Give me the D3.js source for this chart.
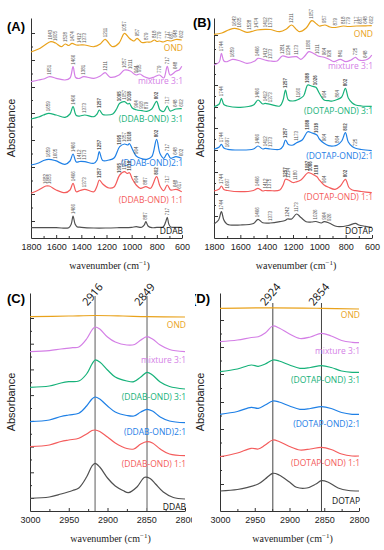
<!DOCTYPE html>
<html>
<head>
<meta charset="utf-8">
<script src="https://cdn.jsdelivr.net/npm/d3@7"></script>
<style>
body { margin: 0; background: #fff; }
svg { display: block; }
.axis path, .axis line { stroke: #333; stroke-width: 1; fill: none; }
.axis text { font-family: "Liberation Sans", Arial, sans-serif; font-size: 9px; fill: #222; }
.xtitle { font-family: "Liberation Serif", "Times New Roman", serif; font-size: 10px; fill: #222; }
.ytitle { font-family: "Liberation Sans", Arial, sans-serif; font-size: 11px; fill: #222; }
.ptitle { font-family: "Liberation Sans", Arial, sans-serif; font-size: 13px; font-weight: bold; fill: #000; }
.sname { font-family: "Open Sans", "Noto Sans", sans-serif; font-size: 8.5px; }
.peak { font-family: "Liberation Sans", Arial, sans-serif; font-size: 4.5px; fill: #555; }
.guide-lab { font-family: "Open Sans", "Noto Sans", sans-serif; font-size: 11px; fill: #111; }
</style>
</head>
<body>
<div class="viz"></div>
<script>
/* tick labels */
var fpTicks = [1800, 1600, 1400, 1200, 1000, 800, 600];
var fpMinor = [1700, 1500, 1300, 1100, 900, 700];
var chTicks = [3000, 2950, 2900, 2850, 2800];
var chMinor = [2975, 2925, 2875, 2825];

var aTicksY = [0.17, 0.44, 0.71, 0.98, 1.25, 1.51, 1.78, 2.05];
var bTicksY = [0.22, 0.44, 0.66, 0.88, 1.10, 1.31, 1.53, 1.75, 2.03];
var cTicksY = [0.13, 0.387, 0.644, 0.901, 1.159, 1.416, 1.673, 1.93];
var dTicksY = [0.27, 0.55, 0.82, 1.09, 1.37, 1.64, 1.91];

/* series names */
var namesDDAB = ['OND', 'mixture 3:1', '(DDAB-OND) 3:1', '(DDAB-OND)2:1', '(DDAB-OND) 1:1', 'DDAB'];
var namesDOTAP = ['OND', 'mixture 3:1', '(DOTAP-OND) 3:1', '(DOTAP-OND)2:1', '(DOTAP-OND) 1:1', 'DOTAP'];
var seriesColors = ['#e9a21b', '#d47fe6', '#17b27a', '#1f80e6', '#f45c5c', '#505050'];
var nameColors = ['#e9a21b', '#d47fe6', '#17b27a', '#1f80e6', '#f45c5c', '#111'];

/* (A) DDAB 1800-600, [wavenumber, absorbance (offset)] */
var aOND = [[1800,1.86],[1740,1.89],[1690,1.93],[1643,1.963],[1605,1.95],[1560,1.913],[1528,1.94],[1500,1.925],[1474,1.947],[1440,1.93],[1412,1.93],[1373,1.93],[1300,1.913],[1250,1.94],[1211,1.987],[1170,1.93],[1150,1.913],[1100,1.95],[1057,2.047],[1020,2.0],[1000,1.98],[980,1.97],[957,1.997],[920,1.955],[879,1.96],[850,1.96],[818,1.98],[800,1.965],[779,1.97],[750,1.96],[717,1.975],[687,1.97],[648,1.985],[602,1.98]];
var aMix = [[1800,1.563],[1740,1.58],[1700,1.59],[1651,1.613],[1600,1.597],[1530,1.58],[1490,1.6],[1466,1.713],[1445,1.605],[1420,1.595],[1381,1.613],[1300,1.597],[1250,1.62],[1211,1.653],[1170,1.607],[1100,1.63],[1057,1.68],[1011,1.67],[980,1.64],[964,1.63],[935,1.64],[900,1.613],[860,1.597],[820,1.61],[779,1.63],[745,1.6],[717,1.717],[695,1.63],[648,1.667],[620,1.683],[602,1.717]];
var a31 = [[1800,1.19],[1740,1.21],[1700,1.23],[1659,1.247],[1600,1.23],[1530,1.207],[1490,1.24],[1466,1.313],[1440,1.225],[1410,1.22],[1373,1.23],[1300,1.213],[1275,1.24],[1257,1.28],[1230,1.235],[1200,1.23],[1150,1.24],[1120,1.29],[1095,1.347],[1057,1.363],[1030,1.34],[1018,1.347],[995,1.3],[964,1.283],[918,1.273],[879,1.267],[840,1.29],[802,1.367],[775,1.28],[745,1.265],[717,1.32],[695,1.27],[648,1.29],[602,1.293]];
var a21 = [[1800,0.73],[1740,0.75],[1700,0.775],[1659,0.787],[1605,0.773],[1530,0.737],[1490,0.77],[1466,0.84],[1440,0.76],[1412,0.765],[1373,0.763],[1300,0.747],[1275,0.78],[1257,0.863],[1230,0.775],[1180,0.78],[1140,0.8],[1095,0.913],[1057,0.94],[1030,0.93],[1018,0.945],[995,0.89],[964,0.82],[930,0.797],[880,0.787],[840,0.813],[802,0.987],[775,0.845],[745,0.797],[717,0.847],[690,0.797],[648,0.813],[602,0.797]];
var a11 = [[1800,0.447],[1740,0.48],[1682,0.52],[1655,0.52],[1600,0.48],[1530,0.453],[1490,0.48],[1466,0.547],[1440,0.463],[1410,0.475],[1373,0.487],[1300,0.463],[1275,0.52],[1257,0.58],[1230,0.54],[1180,0.5],[1140,0.51],[1095,0.63],[1057,0.663],[1035,0.645],[1018,0.653],[995,0.59],[964,0.53],[930,0.497],[887,0.513],[850,0.497],[802,0.613],[775,0.52],[745,0.473],[717,0.53],[690,0.48],[648,0.487],[617,0.473],[602,0.463]];
var aDDAB = [[1800,0.103],[1600,0.103],[1500,0.103],[1480,0.14],[1466,0.22],[1450,0.14],[1435,0.113],[1400,0.107],[1300,0.1],[1200,0.1],[1100,0.103],[1000,0.107],[964,0.113],[920,0.107],[900,0.13],[887,0.163],[870,0.12],[840,0.103],[800,0.107],[750,0.11],[730,0.16],[717,0.207],[705,0.14],[690,0.11],[650,0.107],[602,0.107]];

/* (B) DOTAP 1800-600 */
var bOND = [[1800,2.037],[1740,2.05],[1690,2.08],[1643,2.097],[1605,2.085],[1550,2.057],[1500,2.07],[1474,2.08],[1412,2.087],[1373,2.085],[1300,2.063],[1250,2.09],[1211,2.13],[1170,2.08],[1150,2.063],[1100,2.1],[1057,2.173],[1020,2.14],[1000,2.12],[957,2.13],[920,2.11],[879,2.105],[818,2.12],[779,2.115],[717,2.12],[648,2.122],[602,2.123]];
var bMix = [[1800,1.73],[1760,1.76],[1744,1.847],[1725,1.77],[1700,1.763],[1659,1.787],[1600,1.77],[1550,1.747],[1490,1.77],[1466,1.797],[1412,1.78],[1373,1.77],[1320,1.77],[1281,1.82],[1234,1.807],[1173,1.813],[1140,1.787],[1110,1.82],[1080,1.863],[1050,1.85],[1011,1.82],[964,1.807],[926,1.787],[890,1.763],[841,1.787],[800,1.763],[760,1.78],[725,1.807],[700,1.78],[648,1.78],[620,1.8],[602,1.83]];
var b31 = [[1800,1.313],[1760,1.34],[1744,1.397],[1725,1.335],[1700,1.32],[1600,1.307],[1500,1.33],[1466,1.38],[1430,1.34],[1412,1.347],[1373,1.337],[1300,1.32],[1275,1.38],[1257,1.48],[1235,1.38],[1200,1.37],[1160,1.385],[1120,1.42],[1088,1.53],[1060,1.52],[1026,1.507],[1000,1.447],[964,1.38],[930,1.373],[900,1.37],[864,1.385],[830,1.41],[802,1.497],[780,1.4],[750,1.35],[725,1.33],[680,1.32],[602,1.317]];
var b21 = [[1800,0.887],[1760,0.91],[1744,0.937],[1725,0.9],[1697,0.887],[1600,0.88],[1500,0.89],[1466,0.92],[1430,0.89],[1412,0.897],[1373,0.89],[1300,0.887],[1275,0.92],[1257,0.98],[1235,0.935],[1200,0.93],[1173,0.953],[1130,0.98],[1088,1.063],[1060,1.053],[1018,1.03],[1000,0.99],[964,0.947],[930,0.923],[890,0.92],[864,0.93],[830,0.97],[802,1.053],[780,0.96],[750,0.915],[725,0.897],[680,0.885],[602,0.873]];
var b11 = [[1800,0.47],[1760,0.49],[1744,0.52],[1725,0.485],[1697,0.475],[1600,0.463],[1500,0.475],[1466,0.497],[1430,0.47],[1412,0.475],[1375,0.473],[1300,0.48],[1275,0.53],[1257,0.587],[1234,0.58],[1200,0.555],[1180,0.56],[1140,0.58],[1087,0.653],[1066,0.647],[1040,0.63],[1018,0.613],[1000,0.58],[964,0.53],[930,0.507],[880,0.487],[840,0.52],[802,0.587],[775,0.505],[750,0.48],[725,0.473],[680,0.465],[602,0.453]];
var bDOTAP = [[1800,0.14],[1765,0.18],[1744,0.263],[1725,0.18],[1700,0.137],[1600,0.13],[1500,0.145],[1466,0.187],[1430,0.153],[1373,0.15],[1300,0.163],[1260,0.175],[1242,0.19],[1210,0.19],[1173,0.24],[1140,0.205],[1100,0.163],[1060,0.16],[1026,0.165],[985,0.15],[964,0.163],[926,0.15],[880,0.12],[850,0.113],[780,0.125],[725,0.147],[700,0.13],[650,0.117],[602,0.107]];

/* (C) DDAB 3000-2800 */
var cOND = [[3000,1.943],[2950,1.95],[2916,1.955],[2880,1.95],[2849,1.943],[2800,1.94]];
var cMix = [[3000,1.593],[2975,1.603],[2960,1.62],[2945,1.633],[2937,1.64],[2927,1.72],[2920,1.81],[2916,1.84],[2910,1.82],[2900,1.74],[2890,1.69],[2875,1.66],[2865,1.665],[2857,1.71],[2849,1.743],[2842,1.72],[2832,1.66],[2820,1.615],[2800,1.593]];
var c31 = [[3000,1.237],[2975,1.25],[2960,1.28],[2950,1.293],[2937,1.3],[2927,1.37],[2920,1.47],[2916,1.51],[2910,1.49],[2900,1.41],[2890,1.34],[2875,1.3],[2866,1.293],[2857,1.34],[2849,1.387],[2842,1.36],[2832,1.29],[2820,1.245],[2800,1.22]];
var c21 = [[3000,0.893],[2975,0.91],[2960,0.945],[2950,0.96],[2937,0.977],[2927,1.05],[2920,1.12],[2916,1.14],[2910,1.12],[2900,1.05],[2890,0.99],[2875,0.955],[2866,0.95],[2857,0.99],[2849,1.017],[2842,1.0],[2832,0.94],[2820,0.9],[2800,0.883]];
var c11 = [[3000,0.643],[2975,0.66],[2960,0.695],[2950,0.71],[2937,0.727],[2927,0.77],[2920,0.805],[2916,0.81],[2910,0.795],[2900,0.74],[2890,0.68],[2875,0.625],[2866,0.62],[2857,0.67],[2849,0.693],[2842,0.68],[2832,0.62],[2820,0.57],[2800,0.553]];
var cDDAB = [[3000,0.127],[2975,0.14],[2960,0.17],[2945,0.205],[2937,0.23],[2927,0.34],[2920,0.45],[2916,0.477],[2910,0.44],[2900,0.33],[2890,0.25],[2880,0.205],[2873,0.183],[2862,0.24],[2852,0.337],[2845,0.325],[2838,0.27],[2828,0.19],[2815,0.135],[2800,0.12]];

/* (D) DOTAP 3000-2800 */
var dOND = [[3000,2.027],[2924,2.032],[2854,2.027],[2800,2.02]];
var dMix = [[3000,1.693],[2975,1.71],[2955,1.735],[2945,1.743],[2935,1.78],[2924,1.85],[2915,1.83],[2900,1.77],[2885,1.725],[2870,1.74],[2854,1.777],[2840,1.75],[2825,1.705],[2810,1.687],[2800,1.683]];
var d31 = [[3000,1.393],[2975,1.42],[2955,1.46],[2945,1.447],[2935,1.47],[2924,1.51],[2915,1.5],[2900,1.46],[2885,1.427],[2870,1.435],[2854,1.453],[2840,1.435],[2825,1.4],[2810,1.387],[2800,1.387]];
var d21 = [[3000,0.967],[2975,0.995],[2955,1.037],[2945,1.027],[2935,1.06],[2924,1.1],[2915,1.09],[2900,1.05],[2885,1.017],[2870,1.025],[2854,1.043],[2840,1.025],[2825,0.985],[2810,0.967],[2800,0.967]];
var d11 = [[3000,0.543],[2975,0.58],[2955,0.627],[2945,0.62],[2935,0.66],[2924,0.71],[2915,0.695],[2900,0.645],[2885,0.61],[2870,0.62],[2854,0.637],[2840,0.615],[2825,0.57],[2810,0.55],[2800,0.55]];
var dDOTAP = [[3000,0.2],[2975,0.215],[2960,0.237],[2945,0.27],[2935,0.32],[2924,0.377],[2915,0.36],[2900,0.29],[2890,0.237],[2875,0.23],[2862,0.27],[2854,0.303],[2845,0.29],[2830,0.23],[2815,0.205],[2800,0.2]];

/* peak assignments */
var ondPeaks = [1643,1605,1528,1474,1412,1373,1211,1057,957,879,818,779,717,687,648,602];
var aMixPeaks = [1651,1466,1381,1211,1057,1011,964,935,779,717,648];
var a31Peaks = [1659,1466,1373,1257,1095,1057,1018,964,918,879,802,717,648,602];
var a21Peaks = [1659,1605,1466,1412,1373,1257,1095,1057,1018,964,802,717,648,602];
var a11Peaks = [1682,1655,1466,1373,1257,1095,1057,1018,964,887,802,717,648,617];
var aDDABPeaks = [1466,887,717];
var bMixPeaks = [1744,1659,1466,1412,1373,1281,1234,1173,1080,1011,964,926,841,725,648];
var b31Peaks = [1744,1466,1412,1373,1257,1160,1088,1026,964,864,802];
var b21Peaks = [1744,1697,1466,1412,1373,1257,1173,1088,1018,964,864,802,725];
var b11Peaks = [1744,1697,1466,1412,1375,1257,1234,1180,1087,1066,1018,964,802];
var bDOTAPPeaks = [1744,1466,1373,1242,1173,1026,964,926];
var boldPeaks = [1257,1095,1088,1087,1066,1026,1018,802];

var guidesC = [2916, 2849];
var guidesD = [2924, 2854];

var width = 384, height = 550;
var svg = d3.select('.viz').append('svg')
  .attr('width', width)
  .attr('height', height);

var defs = svg.append('defs');
defs.append('clipPath').attr('id', 'clipC')
  .append('rect').attr('x', 0).attr('y', 275).attr('width', 192).attr('height', 275);
defs.append('clipPath').attr('id', 'clipD')
  .append('rect').attr('x', 195).attr('y', 275).attr('width', 189).attr('height', 275);

function valueAt(data, wn) {
  for (var i = 0; i < data.length - 1; i++) {
    var a = data[i], b = data[i + 1];
    if (wn <= a[0] && wn >= b[0]) {
      var t = (a[0] - wn) / (a[0] - b[0]);
      return a[1] + t * (b[1] - a[1]);
    }
  }
  return data[data.length - 1][1];
}

function peakTop(data, wn) {
  var m = valueAt(data, wn);
  data.forEach(function(d) {
    if (Math.abs(d[0] - wn) <= 12 && d[1] > m) m = d[1];
  });
  return m;
}

function drawPanel(p) {
  var g = svg.append('g');
  if (p.clip) g.attr('clip-path', 'url(#' + p.clip + ')');

  var x = d3.scaleLinear().domain(p.xDomain).range(p.xRange);
  var y = d3.scaleLinear().domain(p.yDomain).range(p.yRange);
  var bottom = p.yRange[0], top = p.yRange[1];

  /* axes */
  g.append('g')
    .attr('class', 'axis')
    .attr('transform', 'translate(0,' + bottom + ')')
    .call(d3.axisBottom(x).tickValues(p.xTicks).tickFormat(d3.format('d'))
      .tickSize(-3).tickSizeOuter(0).tickPadding(6));

  g.append('g')
    .attr('class', 'axis')
    .attr('transform', 'translate(0,' + bottom + ')')
    .call(d3.axisBottom(x).tickValues(p.xMinor).tickSize(-2).tickFormat(''))
    .select('.domain').remove();

  g.append('g')
    .attr('class', 'axis')
    .attr('transform', 'translate(' + p.xRange[0] + ',0)')
    .call(d3.axisLeft(y).tickValues(p.yTicks).tickSize(-4).tickSizeOuter(0).tickFormat(''));

  var yMinor = d3.pairs(p.yTicks).map(function(d) { return (d[0] + d[1]) / 2; });
  g.append('g')
    .attr('class', 'axis')
    .attr('transform', 'translate(' + p.xRange[0] + ',0)')
    .call(d3.axisLeft(y).tickValues(yMinor).tickSize(-2).tickFormat(''))
    .select('.domain').remove();

  /* titles */
  var xt = g.append('text')
    .attr('class', 'xtitle')
    .attr('x', (p.xRange[0] + p.xRange[1]) / 2 + 3)
    .attr('y', bottom + 31)
    .attr('text-anchor', 'middle');
  xt.append('tspan').text('wavenumber (cm');
  xt.append('tspan').attr('font-size', '7px').attr('dy', '-4').text('\u22121');
  xt.append('tspan').attr('dy', '4').text(')');

  g.append('text')
    .attr('class', 'ytitle')
    .attr('transform', 'translate(' + p.yTitleX + ',' + (top + bottom) / 2 + ') rotate(-90)')
    .attr('text-anchor', 'middle')
    .attr('dominant-baseline', 'central')
    .text('Absorbance');

  g.append('text')
    .attr('class', 'ptitle')
    .attr('x', p.titleX)
    .attr('y', p.titleY)
    .attr('text-anchor', p.titleAnchor || 'start')
    .text(p.title);

  /* guide lines */
  if (p.guides) {
    p.guides.forEach(function(wn) {
      g.append('line')
        .attr('x1', x(wn)).attr('x2', x(wn))
        .attr('y1', top + p.guideGap).attr('y2', bottom)
        .attr('stroke', p.guideColor)
        .attr('stroke-width', p.guideWidth);
      g.append('text')
        .attr('class', 'guide-lab')
        .attr('transform', 'translate(' + (x(wn) - 3) + ',' + (top + 1) + ') rotate(-50)')
        .attr('text-anchor', 'middle')
        .attr('dominant-baseline', 'central')
        .text(wn);
    });
  }

  var line = d3.line()
    .x(function(d) { return x(d[0]); })
    .y(function(d) { return y(d[1]); })
    .curve(d3.curveCatmullRom.alpha(0.5));

  p.series.forEach(function(s, i) {
    g.append('path')
      .datum(s)
      .attr('fill', 'none')
      .attr('stroke', seriesColors[i])
      .attr('stroke-width', 1.2)
      .attr('stroke-linejoin', 'round')
      .attr('d', line);

    g.append('text')
      .attr('class', 'sname')
      .attr('x', p.xRange[1] + 1)
      .attr('y', y(p.nameAt[i]))
      .attr('text-anchor', 'end')
      .attr('dominant-baseline', 'central')
      .attr('fill', nameColors[i])
      .text(p.names[i]);

    if (p.peaks && p.peaks[i]) {
      p.peaks[i].forEach(function(wn) {
        var px = x(wn), py = y(peakTop(s, wn)) - 2;
        g.append('text')
          .attr('class', 'peak')
          .attr('transform', 'translate(' + px + ',' + py + ') rotate(-90)')
          .attr('dominant-baseline', 'central')
          .attr('font-weight', boldPeaks.indexOf(wn) >= 0 && i > 1 && i < 5 ? 'bold' : 'normal')
          .text(wn);
      });
    }
  });
}

drawPanel({
  title: '(A)', titleX: 7, titleY: 31, yTitleX: 11,
  xDomain: [1800, 600], xRange: [31, 182], yDomain: [0, 2.2], yRange: [238, 18],
  xTicks: fpTicks, xMinor: fpMinor, yTicks: aTicksY,
  series: [aOND, aMix, a31, a21, a11, aDDAB],
  names: namesDDAB, nameAt: [1.91, 1.58, 1.20, 0.76, 0.39, 0.08],
  peaks: [ondPeaks, aMixPeaks, a31Peaks, a21Peaks, a11Peaks, aDDABPeaks]
});

drawPanel({
  title: '(B)', titleX: 193, titleY: 27, yTitleX: 200,
  xDomain: [1800, 600], xRange: [214, 372], yDomain: [0, 2.2], yRange: [238, 18],
  xTicks: fpTicks, xMinor: fpMinor, yTicks: bTicksY,
  series: [bOND, bMix, b31, b21, b11, bDOTAP],
  names: namesDOTAP, nameAt: [2.05, 1.73, 1.28, 0.83, 0.42, 0.08],
  peaks: [ondPeaks, bMixPeaks, b31Peaks, b21Peaks, b11Peaks, bDOTAPPeaks]
});

drawPanel({
  title: '(C)', titleX: 7, titleY: 303, yTitleX: 11, clip: 'clipC',
  xDomain: [3000, 2800], xRange: [30, 185], yDomain: [0, 2.18], yRange: [511, 293],
  xTicks: chTicks, xMinor: chMinor, yTicks: cTicksY,
  series: [cOND, cMix, c31, c21, c11, cDDAB],
  names: namesDDAB, nameAt: [1.87, 1.52, 1.15, 0.80, 0.48, 0.05],
  guides: guidesC, guideGap: 3, guideColor: '#999', guideWidth: 1.6
});

drawPanel({
  title: '(D)', titleX: 210, titleY: 303, titleAnchor: 'end', yTitleX: 200, clip: 'clipD',
  xDomain: [3000, 2800], xRange: [220, 359], yDomain: [0, 2.18], yRange: [511, 293],
  xTicks: chTicks, xMinor: chMinor, yTicks: dTicksY,
  series: [dOND, dMix, d31, d21, d11, dDOTAP],
  names: namesDOTAP, nameAt: [1.97, 1.61, 1.32, 0.88, 0.49, 0.11],
  guides: guidesD, guideGap: 10, guideColor: '#444', guideWidth: 1
});
</script>
</body>
</html>
